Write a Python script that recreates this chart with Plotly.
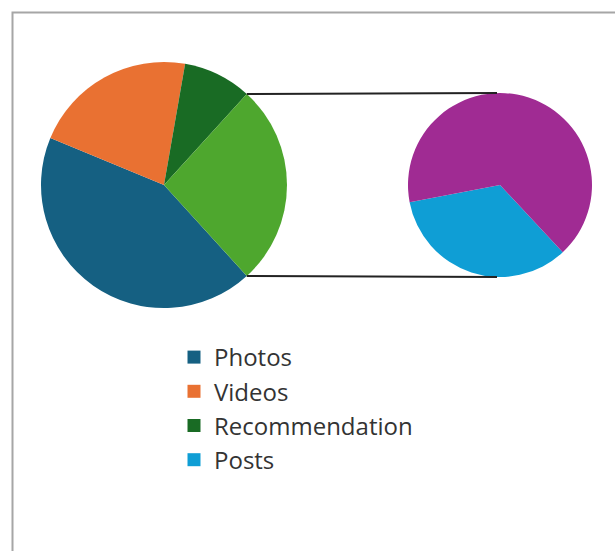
import plotly.graph_objects as go
import math

# ---- data ----
main_labels = ["Photos", "Videos", "Recommendation", "Other"]
main_values = [43, 21.5, 9, 26.5]
main_colors = ["#156082", "#E97132", "#196B24", "#4EA72E"]

sub_labels = ["Posts", "Other posts"]
sub_values = [9, 17.5]
sub_colors = ["#0F9ED5", "#A02B93"]

legend_labels = ["Photos", "Videos", "Recommendation", "Posts"]
legend_colors = ["#156082", "#E97132", "#196B24", "#0F9ED5"]

W, H = 615, 551

# pie geometry in pixels (centre x, centre y, radius)
L = (164, 185, 123)
R = (500, 185, 92)

def dom(c):
    cx, cy, r = c
    return dict(x=[(cx - r) / W, (cx + r) / W], y=[1 - (cy + r) / H, 1 - (cy - r) / H])

other_deg = main_values[-1] / sum(main_values) * 360
rot_main = 90 + other_deg / 2

fig = go.Figure()
fig.add_trace(go.Pie(labels=main_labels, values=main_values, sort=False,
                     direction="clockwise", rotation=rot_main,
                     marker=dict(colors=main_colors, line=dict(width=0)),
                     textinfo="none", hoverinfo="label+value",
                     domain=dom(L), showlegend=False))
fig.add_trace(go.Pie(labels=sub_labels, values=sub_values, sort=False,
                     direction="clockwise", rotation=rot_main - 0.7,
                     marker=dict(colors=sub_colors, line=dict(width=0)),
                     textinfo="none", hoverinfo="label+value",
                     domain=dom(R), showlegend=False))

for lab, col in zip(legend_labels, legend_colors):
    fig.add_trace(go.Scatter(x=[None], y=[None], mode="markers", name=lab,
                             marker=dict(symbol="square", size=13, color=col)))

# connector lines derived from the "Other" slice edges
half = math.radians(other_deg / 2)
shapes = []
for sgn in (1, -1):
    x0 = L[0] + L[2] * math.cos(half)
    y0 = L[1] - sgn * L[2] * math.sin(half)
    x1 = R[0] - 3
    y1 = R[1] - sgn * R[2]
    shapes.append(dict(type="line", xref="paper", yref="paper",
                       x0=x0 / W, y0=1 - y0 / H, x1=x1 / W, y1=1 - y1 / H,
                       line=dict(color="#222222", width=2)))
# chart frame
shapes.append(dict(type="rect", xref="paper", yref="paper",
                   x0=12.5 / W, x1=1.05, y0=-0.05, y1=1 - 12.5 / H,
                   line=dict(color="#A6A6A6", width=2), layer="below"))

fig.update_layout(
    width=W, height=H,
    margin=dict(l=0, r=0, t=0, b=0),
    paper_bgcolor="white", plot_bgcolor="white",
    xaxis=dict(visible=False), yaxis=dict(visible=False),
    shapes=shapes,
    showlegend=True,
    legend=dict(x=174 / W, y=1 - 335 / H, xanchor="left", yanchor="top",
                font=dict(family="Open Sans", size=24, color="#333333"),
                bgcolor="rgba(0,0,0,0)", tracegroupgap=0),
)

fig.write_html("out.html")
